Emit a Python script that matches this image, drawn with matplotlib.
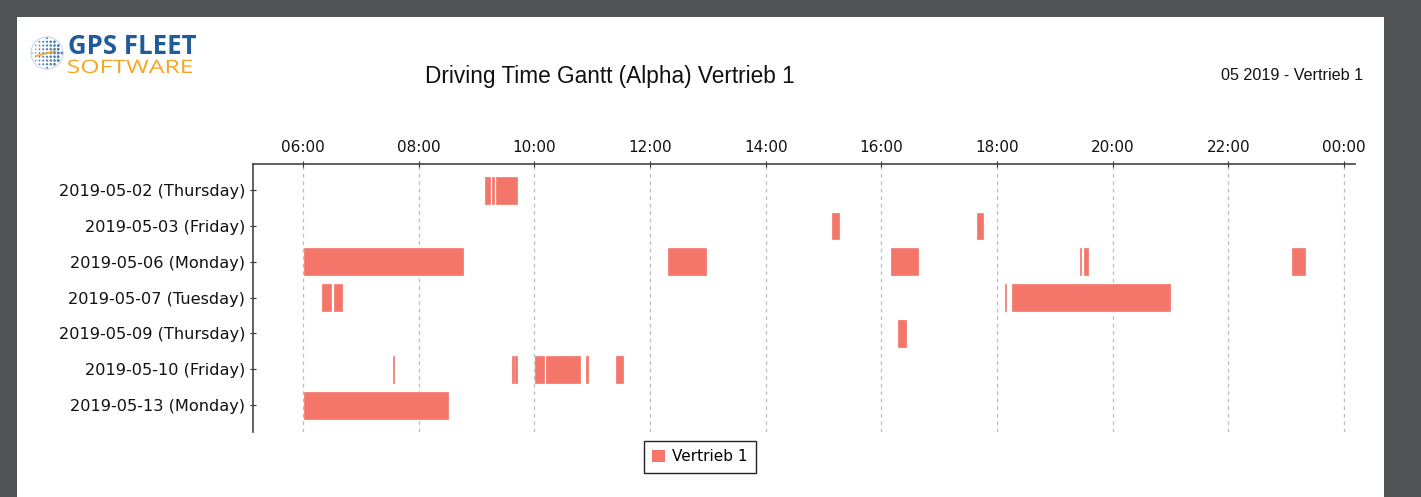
import numpy as np
import matplotlib.pyplot as plt
from matplotlib.patches import Rectangle, Patch, PathPatch
from matplotlib.textpath import TextPath
from matplotlib.font_manager import FontProperties
from matplotlib.transforms import Affine2D
from matplotlib.ticker import FuncFormatter

# rows of the gantt, top to bottom
days = [
    "2019-05-02 (Thursday)",
    "2019-05-03 (Friday)",
    "2019-05-06 (Monday)",
    "2019-05-07 (Tuesday)",
    "2019-05-09 (Thursday)",
    "2019-05-10 (Friday)",
    "2019-05-13 (Monday)",
]

# driving periods per day (start, end)
trips_0502 = [("09:09", "09:14:30"), ("09:16", "09:18"), ("09:20", "09:42")]
trips_0503 = [("15:08:30", "15:16"), ("17:39", "17:45:30")]
trips_0506 = [("06:01", "08:46"), ("12:19", "12:58"), ("16:10", "16:38"),
              ("19:26:30", "19:27:30"), ("19:30", "19:34"), ("23:06", "23:19:30")]
trips_0507 = [("06:20", "06:29"), ("06:32:30", "06:40"), ("18:08", "18:09:30"),
              ("18:16", "20:59")]
trips_0509 = [("16:17", "16:26")]
trips_0510 = [("07:33:30", "07:34:30"), ("09:37", "09:38:30"), ("09:39:30", "09:42"),
              ("10:01", "10:10"), ("10:12", "10:47"), ("10:54", "10:55:30"),
              ("11:25", "11:32")]
trips_0513 = [("06:01", "08:30")]

all_trips = [trips_0502, trips_0503, trips_0506, trips_0507,
             trips_0509, trips_0510, trips_0513]

hour_ticks = list(range(6, 25, 2))
bar_color = "#f4766a"
W, H = 1421, 497


def to_hours(s):
    parts = [int(p) for p in s.split(":")]
    while len(parts) < 3:
        parts.append(0)
    return parts[0] + parts[1] / 60 + parts[2] / 3600


fig = plt.figure(figsize=(W / 100, H / 100), dpi=100)
fig.patch.set_facecolor("#515456")

# white page on the dark viewer background
fig.patches.append(Rectangle((17 / W, 0), (1384 - 17) / W, 1 - 17 / H,
                             transform=fig.transFigure, facecolor="white",
                             edgecolor="none", zorder=-10))

ax = fig.add_axes([253 / W, 1 - 432 / H, (1355 - 253) / W, (432 - 164) / H])
ax.set_facecolor("white")

for row, trips in enumerate(all_trips):
    starts = np.array([to_hours(a) for a, b in trips])
    ends = np.array([to_hours(b) for a, b in trips])
    # thin edge in the bar colour keeps the one-minute trips visible
    ax.barh(row, ends - starts, left=starts, height=0.75, color=bar_color,
            edgecolor=bar_color, linewidth=0.5, zorder=3)

ax.set_xlim(5.135, 24.19)
ax.set_ylim(6.75, -0.73)

ax.xaxis.tick_top()
ax.set_xticks(hour_ticks)
ax.xaxis.set_major_formatter(FuncFormatter(lambda h, p: f"{int(h) % 24:02d}:00"))
ax.set_yticks(range(len(days)))
ax.set_yticklabels(days)
ax.tick_params(axis="both", labelsize=11, direction="inout", length=5,
               color="#333333", labelcolor="#111111")
ax.tick_params(axis="x", pad=4)
ax.tick_params(axis="y", labelsize=11.6, pad=3)

ax.grid(axis="x", linestyle=(0, (3, 3)), color="#bdbdbd", linewidth=0.9, zorder=0)

for side in ["right", "bottom"]:
    ax.spines[side].set_visible(False)
for side in ["left", "top"]:
    ax.spines[side].set_color("#444444")
    ax.spines[side].set_linewidth(1.2)

# titles
fig.text(610 / W, 1 - 76 / H, "Driving Time Gantt (Alpha) Vertrieb 1",
         ha="center", va="center", fontsize=16.3, family="Liberation Sans",
         color="#111111")
fig.text(1363 / W, 1 - 75 / H, "05 2019 - Vertrieb 1", ha="right", va="center",
         fontsize=11.6, family="Liberation Sans", color="#111111")

# logo, drawn in page pixels (y measured up from the bottom)
lg = fig.add_axes([0, 0, 1, 1])
lg.set_xlim(0, W)
lg.set_ylim(0, H)
lg.axis("off")
lg.text(68, H - 47, "GPS FLEET", ha="left", va="center", fontsize=18.5,
        family="Open Sans", weight="bold", color="#1f5c99")
sw = TextPath((0, 0), "SOFTWARE", size=18.5, prop=FontProperties(family="Open Sans"))
ext = sw.get_extents()
sx = (192 - 68) / ext.width
sw = Affine2D().translate(-ext.x0, 0).scale(sx, 1).translate(68, H - 73).transform_path(sw)
lg.add_patch(PathPatch(sw, facecolor="#f5a623", edgecolor="none"))

gx, gy = np.meshgrid(np.linspace(-1, 1, 9), np.linspace(-1, 1, 9))
mask = gx ** 2 + gy ** 2 <= 1
shade = np.clip((gx[mask] + 1.2) / 2.2, 0.2, 1)
cx, cy, r = 47, H - 53, 15
lg.scatter(cx + r * gx[mask], cy + r * gy[mask], s=5 * shade, c="#2c6aa8",
           alpha=0.85, lw=0)
lg.add_patch(plt.Circle((cx, cy), r + 1, fill=False, ec="#c9d6e6", lw=0.8))
lg.plot([cx - 11, cx + 8], [cy - 3, cy + 2], color="#f5a623", lw=1.2)

# legend
fig.legend(handles=[Patch(facecolor=bar_color, edgecolor="none", label="Vertrieb 1")],
           loc="upper center", bbox_to_anchor=(700 / W, 1 - 441 / H),
           borderaxespad=0, fontsize=11, frameon=True, fancybox=False,
           edgecolor="#222222", handlelength=0.8, handleheight=0.8,
           handletextpad=0.5, borderpad=0.55, framealpha=1)

fig.savefig("out.png", dpi=100, facecolor=fig.get_facecolor())
